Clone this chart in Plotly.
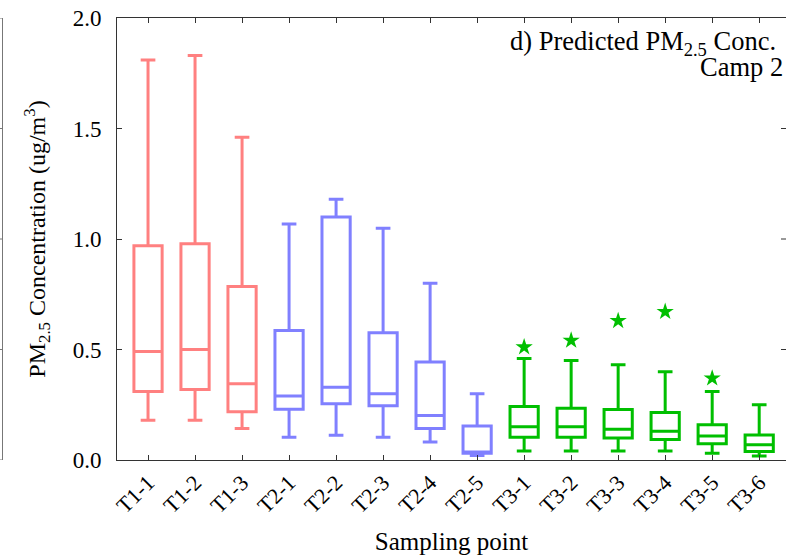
import plotly.graph_objects as go

categories = ["T1-1", "T1-2", "T1-3", "T2-1", "T2-2", "T2-3", "T2-4", "T2-5",
              "T3-1", "T3-2", "T3-3", "T3-4", "T3-5", "T3-6"]
groups = ["T1", "T1", "T1", "T2", "T2", "T2", "T2", "T2",
          "T3", "T3", "T3", "T3", "T3", "T3"]
lower = [0.18, 0.18, 0.142, 0.103, 0.112, 0.103, 0.082, 0.02,
         0.041, 0.041, 0.041, 0.041, 0.03, 0.018]
q1 = [0.31, 0.319, 0.218, 0.23, 0.254, 0.245, 0.143, 0.03,
      0.103, 0.103, 0.10, 0.093, 0.073, 0.039]
median = [0.491, 0.50, 0.345, 0.29, 0.329, 0.30, 0.201, 0.036,
          0.15, 0.15, 0.139, 0.13, 0.109, 0.069]
q3 = [0.969, 0.978, 0.785, 0.586, 1.099, 0.576, 0.444, 0.154,
      0.242, 0.234, 0.228, 0.215, 0.159, 0.113]
upper = [1.81, 1.83, 1.46, 1.068, 1.18, 1.049, 0.80, 0.30,
         0.459, 0.45, 0.431, 0.399, 0.31, 0.25]
outlier_cats = ["T3-1", "T3-2", "T3-3", "T3-4", "T3-5"]
outlier_vals = [0.511, 0.541, 0.630, 0.671, 0.37]

y_ticks = [0.0, 0.5, 1.0, 1.5, 2.0]
y_ticklabels = ["0.0", "0.5", "1.0", "1.5", "2.0"]

colors = {"T1": "#ff8080", "T2": "#8080ff", "T3": "#00bf00"}
FONT = "Liberation Serif"

W, H = 786, 560
ML, MT, MB = 117, 18, 100
PW = W - ML
PH = H - MT - MB

fig = go.Figure()
for g in ["T1", "T2", "T3"]:
    idx = [i for i, gg in enumerate(groups) if gg == g]
    fig.add_trace(go.Box(
        x=[categories[i] for i in idx],
        q1=[q1[i] for i in idx],
        median=[median[i] for i in idx],
        q3=[q3[i] for i in idx],
        lowerfence=[lower[i] for i in idx],
        upperfence=[upper[i] for i in idx],
        width=0.6,
        whiskerwidth=0.52,
        line=dict(color=colors[g], width=3),
        fillcolor="rgba(255,255,255,0)",
        boxpoints=False,
        showlegend=False,
        hoverinfo="skip",
    ))

fig.add_trace(go.Scatter(
    x=outlier_cats, y=outlier_vals, mode="markers",
    marker=dict(symbol="star", size=13, color=colors["T3"], line=dict(width=0)),
    showlegend=False, hoverinfo="skip",
))

axis_col = "#333333"
fig.update_layout(
    width=W, height=H,
    margin=dict(l=ML, r=0, t=MT, b=MB),
    paper_bgcolor="white", plot_bgcolor="white",
    boxmode="overlay",
    font=dict(family=FONT, size=24, color="black"),
    xaxis=dict(
        type="category",
        categoryorder="array", categoryarray=categories,
        range=[-0.66, 13.57],
        showline=True, linecolor=axis_col, linewidth=1, mirror="ticks",
        ticks="inside", ticklen=5, tickcolor=axis_col,
        tickangle=-45, tickfont=dict(family=FONT, size=22, color="black"),
        showgrid=False, zeroline=False,
        title=dict(text="Sampling point", font=dict(family=FONT, size=25, color="black"), standoff=15),
        automargin=False,
    ),
    yaxis=dict(
        range=[0, 2.0],
        tickvals=y_ticks, ticktext=y_ticklabels,
        showline=True, linecolor=axis_col, linewidth=1,
        ticks="inside", ticklen=5, tickcolor=axis_col,
        ticklabelstandoff=10, ticklabeloverflow="allow",
        tickfont=dict(family=FONT, size=23, color="black"),
        showgrid=False, zeroline=False,
        title=dict(text="PM<sub>2.5</sub> Concentration (ug/m<sup>3</sup>)",
                   font=dict(family=FONT, size=24, color="black"), standoff=20),
        automargin=False,
    ),
)

# right-axis tick marks (axis line itself falls just outside the window)
for v in y_ticks[1:-1]:
    fig.add_shape(type="line", xref="paper", yref="y", x0=1.0 - 5.0 / PW, x1=1.0, y0=v, y1=v,
                  line=dict(color=axis_col, width=1))

# fragment of neighbouring panel at the far left
frag_x = (2.5 - ML) / PW
edge_x = (0.0 - ML) / PW
frag_col = "#777777"
fig.add_shape(type="line", xref="paper", yref="y", x0=frag_x, x1=frag_x, y0=0, y1=2.0,
              line=dict(color=frag_col, width=1))
for v in y_ticks:
    fig.add_shape(type="line", xref="paper", yref="y", x0=edge_x, x1=frag_x, y0=v, y1=v,
                  line=dict(color=frag_col, width=1))

def px_x(p):
    return (p - ML) / PW

def px_y(p):
    return (H - MB - p) / PH

fig.add_annotation(
    text="d) Predicted PM<sub>2.5</sub> Conc.",
    xref="paper", yref="paper", x=px_x(778), y=px_y(24),
    xanchor="right", yanchor="top", align="right", showarrow=False,
    font=dict(family=FONT, size=26.5, color="black"),
)
fig.add_annotation(
    text="Camp 2",
    xref="paper", yref="paper", x=px_x(785), y=px_y(50),
    xanchor="right", yanchor="top", align="right", showarrow=False,
    font=dict(family=FONT, size=26.5, color="black"),
)

fig.write_html(
    "out.html",
    config={"displayModeBar": False},
    post_script="document.body.style.margin='0';document.body.style.overflow='hidden';",
)
